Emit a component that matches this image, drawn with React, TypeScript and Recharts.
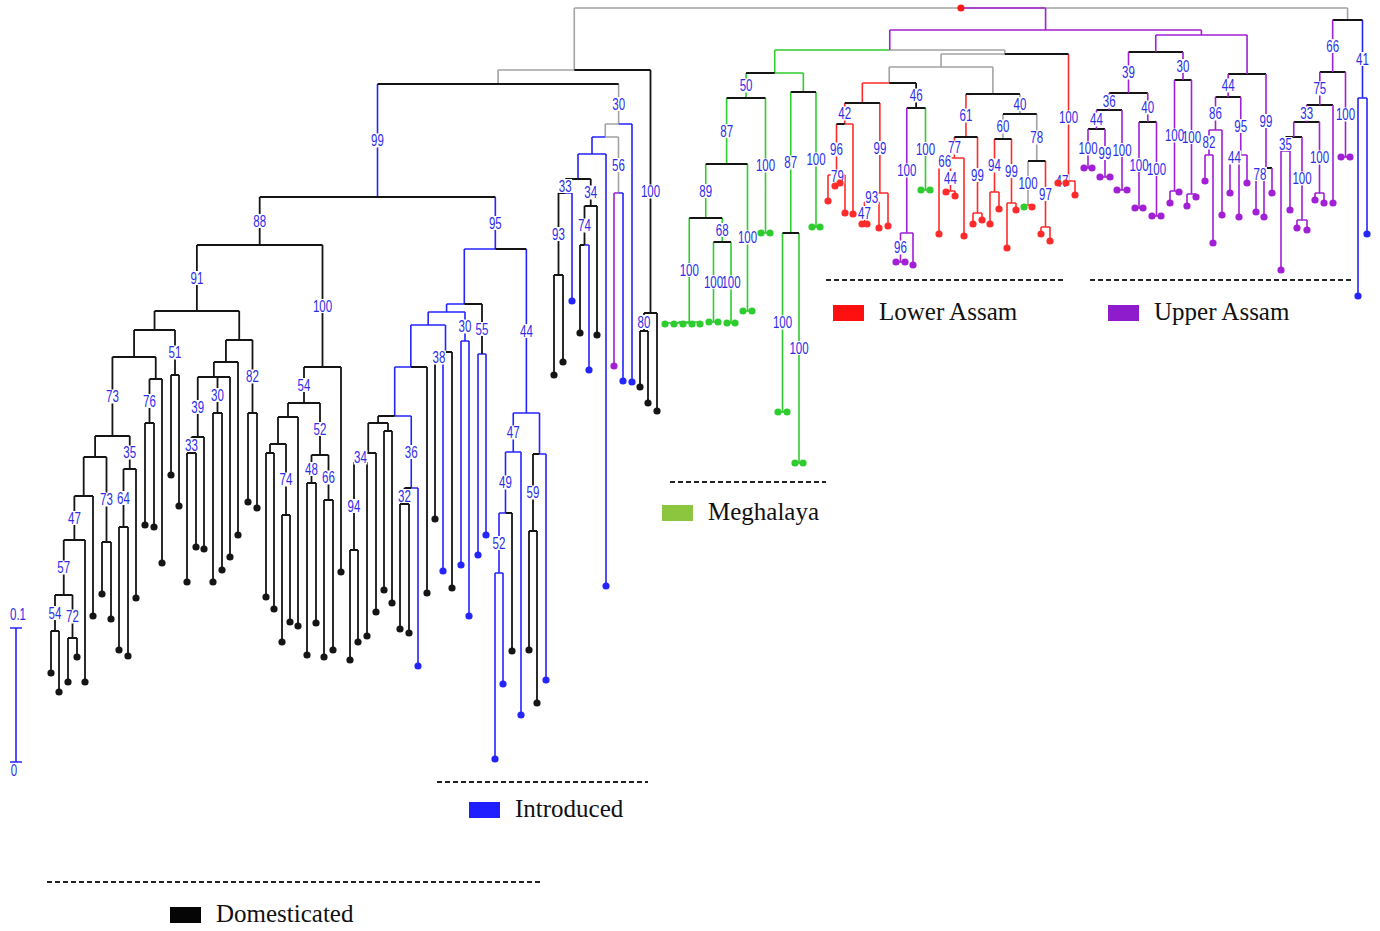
import React from "react";
import { ComposedChart, Line, Scatter, XAxis, YAxis } from "recharts";

// tree node: leaves carry x (tip position), internal nodes get x from their children.
// c = "<branch colour>[/<bar colour(s)>]"   k black, g grey, b blue, G green, r red, p purple
type Node = { x?: number; y: number; c: string; l?: string; k?: Node[] };

const T = (x: number, y: number, c = "k"): Node => ({ x, y, c });
const N = (y: number, c: string, l: string, ...k: Node[]): Node => ({ y, c, l, k });
const pair = (xa: number, xb: number, y: number, c: string, l: string): Node =>
  N(y, c, l, T(xa, y, c), T(xb, y, c));

// ---- Domesticated ----
const dom91 = N(311, "k", "91",
  N(330, "k", "",
    N(357, "k", "",
      N(436, "k", "73",
        N(457, "k", "",
          N(496, "k", "",
            N(540, "k", "47",
              N(595, "k", "57",
                N(631, "k", "54", T(51, 673), T(59, 692)),
                N(638, "k", "72", T(68, 682), T(77, 657))),
              T(85, 682)),
            T(93, 616)),
          N(542, "k", "73", T(102, 594), T(111, 619))),
        N(469, "k", "35",
          N(527, "k", "64", T(119, 650), T(128, 656)),
          T(136, 598))),
      N(379, "k", "",
        N(423, "k", "76", T(145, 525), T(154, 527)),
        T(162, 563))),
    N(375, "k", "51", T(171, 475), T(179, 506))),
  N(340, "k", "",
    N(362, "k", "",
      N(377, "k", "",
        N(437, "k", "39",
          N(453, "k", "33", T(187, 582), T(196, 547)),
          T(204, 549)),
        N(413, "k", "30", T(213, 582), T(222, 570)),
        T(230, 557)),
      T(238, 535)),
    N(413, "k", "82", T(248, 502), T(257, 508))));

const dom100 = N(367, "k", "100",
  N(403, "k", "54",
    N(417, "k", "",
      N(444, "k", "",
        N(453, "k", "", T(266, 597), T(274, 609)),
        N(515, "k", "74", T(282, 642), T(290, 622))),
      T(298, 626)),
    N(455, "k", "52",
      N(483, "k", "48", T(307, 655), T(316, 623)),
      N(500, "k", "66", T(324, 657), T(333, 650)))),
  T(341, 572));

const dom650 = N(313, "k", "100",
  N(331, "k", "80", T(640, 387), T(648, 403)),
  T(657, 411));

// ---- Introduced ----
const intro95 = N(249, "b/bk", "95",
  N(304, "b", "",
    N(312, "b", "",
      N(325, "b", "",
        N(367, "b", "",
          N(416, "b", "",
            N(423, "k", "",
              N(453, "k", "",
                N(462, "k", "34",
                  N(550, "k", "94", T(350, 660), T(358, 642)),
                  T(367, 636)),
                T(376, 612)),
              N(431, "k", "", T(384, 590), T(392, 603))),
            N(488, "b", "36",
              N(504, "k", "32", T(400, 629), T(409, 633)),
              T(418, 666, "b"))),
          T(427, 593)),
        N(352, "b", "",
          N(363, "k", "38", T(435, 519), T(443, 571, "b")),
          T(452, 588))),
      N(341, "b", "30", T(461, 565, "b"), T(469, 616, "b"))),
    N(354, "k", "55", T(478, 555, "b"), T(486, 535, "b"))),
  N(413, "b", "44",
    N(452, "b", "47",
      N(513, "b", "49",
        N(573, "b", "52", T(495, 759, "b"), T(503, 684, "b")),
        T(512, 651)),
      T(521, 715, "b")),
    N(454, "b", "",
      N(531, "k", "59", T(529, 650), T(537, 703)),
      T(546, 680, "b"))));

const intro30 = N(124, "g", "30",
  N(137, "g", "",
    N(154, "b", "",
      N(179, "b/k", "",
        N(193, "k", "33",
          N(275, "k", "93", T(554, 375), T(563, 362)),
          T(572, 301, "b")),
        N(206, "k", "34",
          N(245, "k", "74", T(580, 333), T(589, 370, "b")),
          T(597, 335))),
      T(606, 586, "b")),
    N(193, "g", "56", T(614, 366, "p"), T(623, 381, "b"))),
  T(632, 382, "b"));

const leftClade = N(70, "g", "",
  N(84, "g/k", "",
    N(197, "b/k", "99",
      N(245, "k", "88", dom91, dom100),
      intro95),
    intro30),
  dom650);

// ---- Meghalaya ----
const meghalaya = N(73, "G/kG", "",
  N(98, "G/k", "50",
    N(164, "G/k", "87",
      N(218, "G/k", "89",
        N(322, "G", "100",
          N(323, "G", "", T(665, 324, "G"), T(674, 324, "G"), T(683, 324, "G"), T(692, 324, "G")),
          T(700, 324, "G")),
        N(242, "G/k", "68",
          pair(709, 718, 322, "G", "100"),
          pair(727, 735, 323, "G", "100"))),
      pair(743, 752, 311, "G", "100")),
    pair(761, 770, 233, "G", "100")),
  N(92, "G/k", "",
    N(233, "G/k", "87",
      pair(778, 787, 412, "G", "100"),
      pair(795, 803, 463, "G", "100")),
    pair(812, 820, 227, "G", "100")));

// ---- Lower Assam ----
const lower42 = N(103, "r/k", "",
  N(124, "r/kr", "42",
    N(175, "r", "96",
      T(828, 201, "r"),
      N(178, "r", "79", T(835, 186, "r"), T(840, 183, "r")),
      T(845, 213, "r")),
    T(853, 214, "r")),
  N(193, "r", "99",
    N(202, "r", "93",
      N(224, "r", "47", T(862, 224, "r"), T(867, 224, "r")),
      T(879, 228, "r")),
    T(888, 226, "r")));

const node46 = N(108, "k/k", "46",
  N(233, "p", "100",
    pair(896, 905, 262, "p", "96"),
    T(913, 265, "p")),
  pair(921, 930, 190, "G", "100"));

const node61 = N(137, "r/k", "61",
  N(158, "r", "77",
    N(165, "r", "66",
      T(939, 234, "r"),
      N(191, "r", "44", T(946, 192, "r"), T(955, 196, "r"))),
    T(964, 236, "r")),
  N(213, "r", "99", T(973, 224, "r"), T(982, 220, "r")));

const node40 = N(114, "g/k", "40",
  N(139, "g/k", "60",
    N(192, "r", "94", T(990, 224, "r"), T(999, 209, "r")),
    N(203, "r", "99", T(1007, 248, "r"), T(1016, 210, "r"))),
  N(161, "g/k", "78",
    N(205, "g", "100", T(1024, 207, "G"), T(1032, 207, "r")),
    N(227, "r", "97", T(1041, 234, "r"), T(1050, 241, "r"))));

const node1069 = N(181, "r", "100",
  N(182, "r", "47", T(1058, 183, "r"), T(1066, 183, "r")),
  T(1075, 195, "r"));

const lowerBlock = N(54, "g/gk", "",
  N(67, "g", "",
    N(83, "g", "", lower42, node46),
    N(94, "g/k", "", node61, node40)),
  node1069);

// ---- Upper Assam ----
const ua39 = N(93, "p/k", "39",
  N(110, "p/k", "36",
    N(129, "p/k", "44",
      pair(1084, 1092, 168, "p", "100"),
      pair(1100, 1110, 177, "p", "99")),
    pair(1117, 1127, 190, "p", "100")),
  N(122, "p/k", "40",
    pair(1135, 1143, 208, "p", "100"),
    pair(1152, 1161, 216, "p", "100")));

const ua30 = N(80, "p/k", "30",
  N(191, "p", "100", T(1170, 203, "p"), T(1179, 192, "p")),
  N(194, "p", "100", T(1187, 206, "p"), T(1196, 197, "p")));

const ua44 = N(74, "p/k", "",
  N(97, "p/k", "44",
    N(130, "p", "86",
      N(155, "p", "82", T(1205, 181, "p"), T(1213, 243, "p")),
      T(1222, 215, "p")),
    N(155, "p", "95",
      N(160, "p", "44", T(1230, 193, "p"), T(1239, 217, "p")),
      T(1247, 183, "p"))),
  N(168, "p/k", "99",
    N(180, "p", "78", T(1256, 212, "p"), T(1264, 217, "p")),
    T(1272, 193, "p")));

const middleClade = N(30, "p", "",
  N(50, "p", "", meghalaya, lowerBlock),
  N(35, "p", "", N(52, "p/k", "", ua39, ua30), ua44));

const rightClade = N(20, "g/k", "",
  N(72, "p/k", "66",
    N(105, "p/k", "75",
      N(122, "p/k", "33",
        N(137, "p/k", "",
          N(151, "p", "35", T(1281, 270, "p"), T(1290, 210, "p")),
          N(220, "p", "100", T(1297, 228, "p"), T(1307, 230, "p"))),
        N(193, "p", "100", T(1315, 200, "p"), T(1324, 203, "p"))),
      T(1333, 203, "p")),
    pair(1341, 1350, 157, "p", "100")),
  N(98, "b", "41", T(1358, 296, "b"), T(1367, 234, "b")));

const root = N(8, "g/gpg", "", leftClade, middleClade, rightClade);

// ---- legend / scale ----
const legendItems = [
  { name: "Meghalaya", color: "#8cc63f", x: 662, y: 505 },
  { name: "Lower Assam", color: "#ff1010", x: 833, y: 305 },
  { name: "Upper Assam", color: "#8e1ccc", x: 1108, y: 305 },
  { name: "Introduced", color: "#1f1fff", x: 469, y: 802 },
  { name: "Domesticated", color: "#050505", x: 170, y: 907 },
];
const legendRules = [
  { x1: 670, x2: 826, y: 482 },
  { x1: 826, x2: 1063, y: 280 },
  { x1: 1090, x2: 1352, y: 280 },
  { x1: 437, x2: 648, y: 782 },
  { x1: 47, x2: 541, y: 882 },
];
const scaleBar = { x: 16, top: 628, bottom: 762, cap: 6 };
const scaleTicks = [
  { x: 18, y: 620, text: "0.1" },
  { x: 14, y: 776, text: "0" },
];

const palette: Record<string, string> = {
  g: "#a3a3a3",
  k: "#151515",
  b: "#2424ff",
  G: "#2fcc2f",
  r: "#ff2b2b",
  p: "#a11fd4",
};
const drawOrder = ["g", "G", "r", "b", "k", "p"];

type Pt = { x: number; y: number | null };
type Lab = { x: number; y: number; text: string };

function place(n: Node): Node {
  if (!n.k) return n;
  const k = n.k.map(place);
  return { ...n, k, x: ((k[0].x as number) + (k[k.length - 1].x as number)) / 2 };
}

const segs: Record<string, Pt[]> = {};
const tips: Record<string, Pt[]> = {};
const labels: Lab[] = [];

function addSeg(c: string, x1: number, y1: number, x2: number, y2: number) {
  (segs[c] ||= []).push({ x: x1, y: y1 }, { x: x2, y: y2 }, { x: x2, y: null });
}

function walk(n: Node, py: number | null) {
  const [bc, bar] = n.c.split("/");
  const x = n.x as number;
  if (py !== null) {
    addSeg(bc, x, py, x, n.y);
    if (n.l) labels.push({ x, y: (py + n.y) / 2, text: n.l });
  }
  if (!n.k) {
    (tips[bc] ||= []).push({ x, y: n.y });
    return;
  }
  n.k.forEach((ch, i) => {
    const hc = bar ? (bar.length === 1 ? bar : bar[i]) : ch.c[0];
    addSeg(hc, x, n.y, ch.x as number, n.y);
    walk(ch, n.y);
  });
}

const tree = place(root);
walk(tree, null);
const rootMark = [{ x: tree.x as number, y: tree.y }];

const scalePts: Pt[] = [
  { x: scaleBar.x, y: scaleBar.top }, { x: scaleBar.x, y: scaleBar.bottom }, { x: scaleBar.x, y: null },
  { x: scaleBar.x - scaleBar.cap, y: scaleBar.top }, { x: scaleBar.x + scaleBar.cap, y: scaleBar.top }, { x: 0, y: null },
  { x: scaleBar.x - scaleBar.cap, y: scaleBar.bottom }, { x: scaleBar.x + scaleBar.cap, y: scaleBar.bottom },
];
const rulePts: Pt[] = legendRules.flatMap((r) => [
  { x: r.x1, y: r.y }, { x: r.x2, y: r.y }, { x: r.x2, y: null },
]);

const labelFont = "'Liberation Sans', Arial, sans-serif";
const labelBlue = "#2d2de8";

// condensed look: Arial squeezed horizontally
const NarrowText = ({ x, y, text }: { x: number; y: number; text: string }) => (
  <text
    transform={`translate(${x},${y}) scale(0.72,1)`}
    textAnchor="middle"
    fontSize={16}
    fill={labelBlue}
    fontFamily={labelFont}
  >
    {text}
  </text>
);

// white patch behind each support value (drawn first so neighbours never hide each other)
const LabelBack = (p: any) => {
  const w = p.payload.text.length * 6.4 + 1;
  return <rect x={p.cx - w / 2} y={p.cy - 7} width={w} height={14} fill="#ffffff" />;
};
const LabelText = (p: any) => <NarrowText x={p.cx} y={p.cy + 5.8} text={p.payload.text} />;

const tipShape = (color: string) => (p: any) => <circle cx={p.cx} cy={p.cy} r={3.6} fill={color} />;

const LegendShape = (p: any) => {
  const d = p.payload;
  return (
    <g>
      <rect x={p.cx} y={p.cy} width={31} height={16} fill={d.color} />
      <text x={p.cx + 46} y={p.cy + 15} fontSize={25} fill="#111" fontFamily="'Liberation Serif', 'Times New Roman', serif">
        {d.name}
      </text>
    </g>
  );
};

const ScaleText = (p: any) => <NarrowText x={p.cx} y={p.cy} text={p.payload.text} />;

export default function App() {
  return (
    <div style={{ position: "absolute", left: 0, top: 0, width: 1380, height: 931, background: "#fff" }}>
      <ComposedChart width={1380} height={931} margin={{ top: 0, right: 0, bottom: 0, left: 0 }}>
        <XAxis type="number" dataKey="x" domain={[0, 1380]} hide allowDataOverflow />
        <YAxis type="number" dataKey="y" domain={[0, 931]} reversed hide allowDataOverflow />
        {drawOrder.map((c) => (
          <Line
            key={"seg-" + c}
            data={segs[c] || []}
            dataKey="y"
            stroke={palette[c]}
            strokeWidth={c === "k" ? 1.8 : 1.6}
            dot={false}
            activeDot={false}
            isAnimationActive={false}
          />
        ))}
        <Line data={rulePts} dataKey="y" stroke="#222" strokeWidth={1.8} strokeDasharray="5 3" dot={false} activeDot={false} isAnimationActive={false} />
        <Line data={scalePts} dataKey="y" stroke={palette.b} strokeWidth={1.6} dot={false} activeDot={false} isAnimationActive={false} />
        <Scatter data={labels} dataKey="y" shape={LabelBack} isAnimationActive={false} />
        <Scatter data={labels} dataKey="y" shape={LabelText} isAnimationActive={false} />
        {drawOrder.map((c) => (
          <Scatter key={"tip-" + c} data={tips[c] || []} dataKey="y" shape={tipShape(palette[c])} isAnimationActive={false} />
        ))}
        <Scatter data={rootMark} dataKey="y" shape={tipShape("#ff1a1a")} isAnimationActive={false} />
        <Scatter data={scaleTicks} dataKey="y" shape={ScaleText} isAnimationActive={false} />
        <Scatter data={legendItems} dataKey="y" shape={LegendShape} isAnimationActive={false} />
      </ComposedChart>
    </div>
  );
}
